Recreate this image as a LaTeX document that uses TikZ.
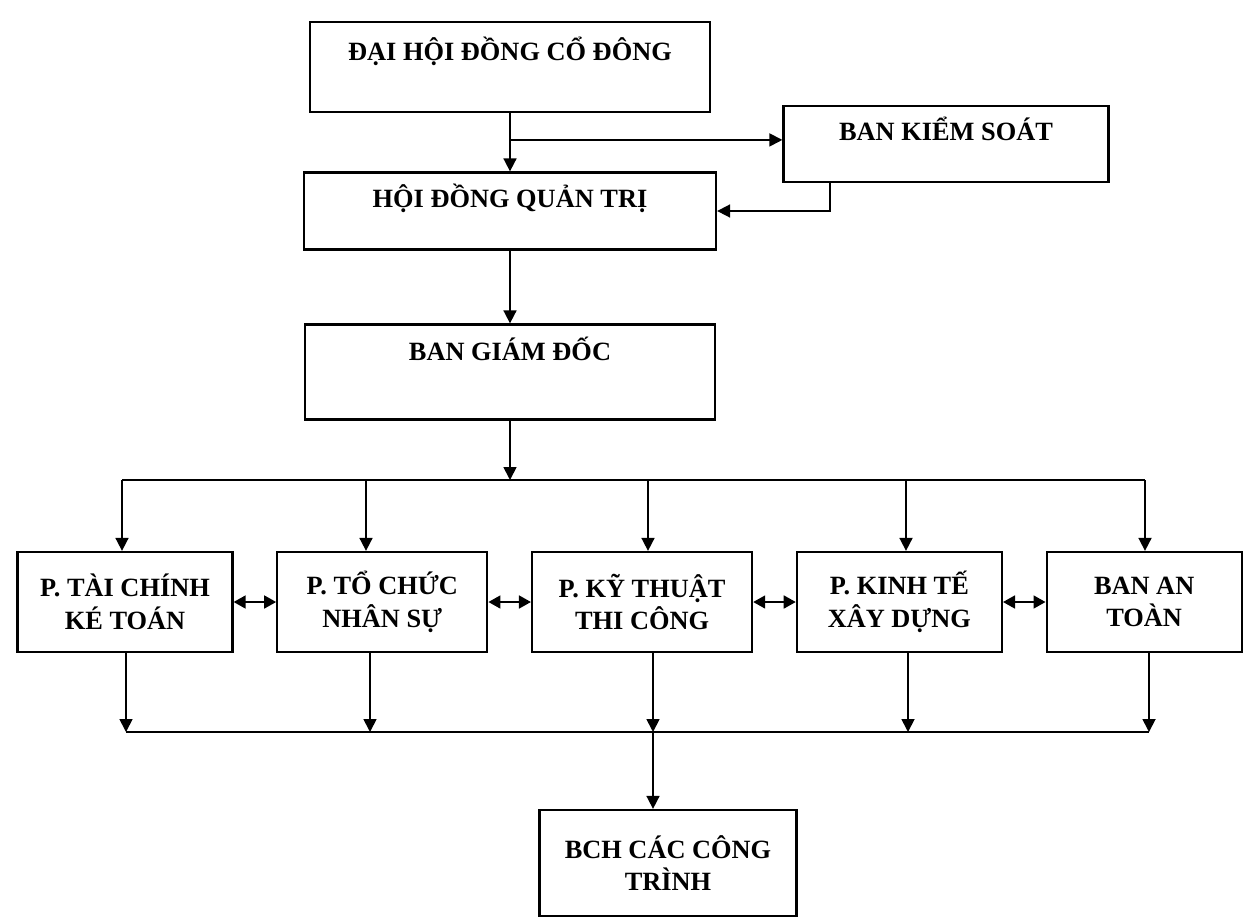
\documentclass[tikz,border=0pt]{standalone}
\usepackage{fontspec}
\setmainfont{Liberation Serif}
\usetikzlibrary{arrows.meta,positioning,calc}
\tikzset{
  orgbox/.style={draw=black, line width=1.3pt, fill=white, align=center, inner sep=2pt, minimum height=20mm, font=\bfseries\fontsize{15}{18.5}\selectfont},
  highlabel/.style={text height=4mm, text depth=#1},
  arrow/.style={-{Triangle[length=2.6mm,width=2.6mm]}, line width=1pt, draw=black},
  twoway/.style={{Triangle[length=2.4mm,width=2.6mm]}-{Triangle[length=2.4mm,width=2.6mm]}, line width=1pt, draw=black},
  bus/.style={line width=1pt, draw=black}
}
\begin{document}
\begin{tikzpicture}[x=0.2mm, y=-0.2mm, node distance=8.5mm]
  \useasboundingbox (0,0) rectangle (1246,919);
  % upper part
  \node[orgbox, minimum width=80mm, minimum height=18mm, highlabel=6.8mm] (dhdcd) at (510,67) {ĐẠI HỘI ĐỒNG CỔ ĐÔNG};
  \node[orgbox, minimum width=82.4mm, minimum height=15.4mm, highlabel=5.6mm] (hdqt) at (510,211) {HỘI ĐỒNG QUẢN TRỊ};
  \node[orgbox, minimum width=65mm, minimum height=15.2mm, highlabel=5.6mm] (bks) at (946,144) {BAN KIỂM SOÁT};
  \node[orgbox, minimum width=82mm, minimum height=19mm, highlabel=8.8mm] (bgd) at (510,372) {BAN GIÁM ĐỐC};

  % departments
  \node[orgbox, minimum width=43mm] (tckt) at (125,602) {P. TÀI CHÍNH\\KÉ TOÁN};
  \node[orgbox, minimum width=42mm, right=of tckt] (tcns) {P. TỔ CHỨC\\NHÂN SỰ};
  \node[orgbox, minimum width=44mm, right=of tcns] (ktnc) {P. KỸ THUẬT\\THI CÔNG};
  \node[orgbox, minimum width=41mm, right=of ktnc] (ktxd) {P. KINH TẾ\\XÂY DỰNG};
  \node[orgbox, minimum width=39mm, right=of ktxd] (bant) {BAN AN\\TOÀN};

  \node[orgbox, minimum width=51.4mm, minimum height=21.2mm] (bch) at (668,863) {BCH CÁC CÔNG\\TRÌNH};

  % connectors
  \coordinate (split) at ($(dhdcd.south)!0.46!(hdqt.north)$);
  \draw[arrow] (dhdcd) -- (hdqt);
  \draw[arrow] (split) -- (split -| bks.west);
  \draw[arrow] ([xshift=-23.2mm]bks.south) |- (hdqt.east);
  \draw[arrow] (hdqt) -- (bgd);

  \foreach \b/\x in {tckt/122, tcns/366, ktnc/648, ktxd/906, bant/1145} {
    \coordinate (top-\b) at (\x,480);
    \draw[arrow] (top-\b) -- (top-\b |- \b.north);
  }
  \foreach \b/\x in {tckt/126, tcns/370, ktnc/653, ktxd/908, bant/1149} {
    \coordinate (low-\b) at (\x,732);
    \draw[arrow] (low-\b |- \b.south) -- (low-\b);
  }
  \draw[arrow] (bgd) -- (bgd |- top-tckt);
  \draw[bus] (top-tckt) -- (top-bant);
  \draw[bus] (low-tckt) -- (low-bant);
  \draw[arrow] (low-ktnc) -- (low-ktnc |- bch.north);

  \draw[twoway] (tckt) -- (tcns);
  \draw[twoway] (tcns) -- (ktnc);
  \draw[twoway] (ktnc) -- (ktxd);
  \draw[twoway] (ktxd) -- (bant);
\end{tikzpicture}
\end{document}
